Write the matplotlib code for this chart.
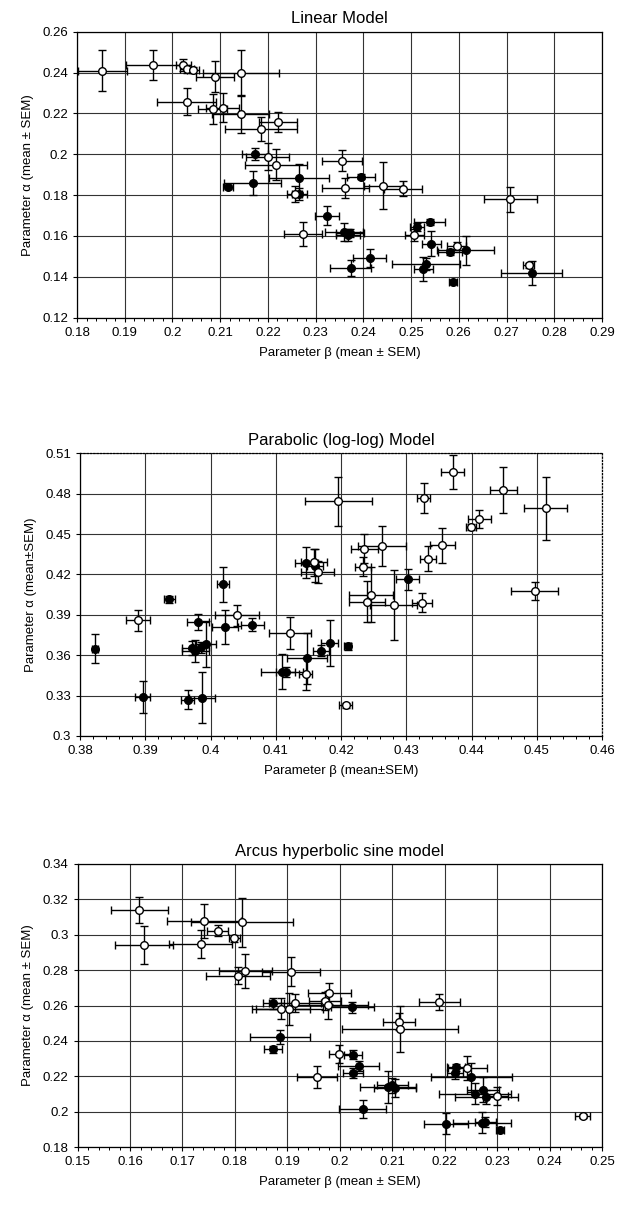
import matplotlib
matplotlib.use("Agg")
import matplotlib.pyplot as plt
from matplotlib.ticker import FixedLocator, MultipleLocator, FuncFormatter

plt.rcParams['font.family'] = ['Liberation Sans', 'DejaVu Sans']

# ---------------- Panel 1: Linear Model ----------------
lin_open_x = [0.1853, 0.1960, 0.2023, 0.2031, 0.2043, 0.2089, 0.2143, 0.2030, 0.2084, 0.2105,
              0.2143, 0.2186, 0.2221, 0.2200, 0.2217, 0.2355, 0.2362, 0.2442, 0.2483, 0.2708,
              0.2273, 0.2256, 0.2507, 0.2596, 0.2746]
lin_open_y = [0.2409, 0.2437, 0.2437, 0.2416, 0.2413, 0.2380, 0.2400, 0.2258, 0.2220, 0.2228,
              0.2196, 0.2123, 0.2160, 0.1989, 0.1948, 0.1969, 0.1834, 0.1847, 0.1831, 0.1780,
              0.1609, 0.1805, 0.1606, 0.1549, 0.1456]
lin_open_xe = [0.0051, 0.0057, 0.0015, 0.0015, 0.0012, 0.0040, 0.0080, 0.0062, 0.0030, 0.0035,
               0.0060, 0.0076, 0.0039, 0.0045, 0.0064, 0.0042, 0.0049, 0.0040, 0.0039, 0.0056,
               0.0040, 0.0015, 0.0020, 0.0020, 0.0012]
lin_open_ye = [0.0099, 0.0072, 0.0027, 0.0020, 0.0015, 0.0075, 0.0108, 0.0065, 0.0073, 0.0070,
               0.0090, 0.0060, 0.0049, 0.0064, 0.0076, 0.0051, 0.0050, 0.0114, 0.0037, 0.0061,
               0.0059, 0.0040, 0.0030, 0.0020, 0.0012]
lin_fill_x = [0.2173, 0.2116, 0.2168, 0.2266, 0.2266, 0.2324, 0.2360, 0.2368, 0.2372, 0.2374,
              0.2413, 0.2395, 0.2512, 0.2539, 0.2542, 0.2531, 0.2526, 0.2581, 0.2614, 0.2588,
              0.2753]
lin_fill_y = [0.2000, 0.1842, 0.1859, 0.1883, 0.1806, 0.1700, 0.1620, 0.1605, 0.1615, 0.1443,
              0.1492, 0.1891, 0.1646, 0.1668, 0.1562, 0.1464, 0.1438, 0.1521, 0.1529, 0.1375,
              0.1419]
lin_fill_xe = [0.0027, 0.0010, 0.0060, 0.0063, 0.0015, 0.0025, 0.0040, 0.0025, 0.0030, 0.0043,
               0.0035, 0.0029, 0.0015, 0.0033, 0.0020, 0.0072, 0.0020, 0.0025, 0.0059, 0.0008,
               0.0064]
lin_fill_ye = [0.0030, 0.0010, 0.0057, 0.0068, 0.0030, 0.0047, 0.0045, 0.0030, 0.0020, 0.0040,
               0.0045, 0.0012, 0.0020, 0.0015, 0.0060, 0.0030, 0.0057, 0.0015, 0.0073, 0.0010,
               0.0059]
lin_xticks = [0.18, 0.19, 0.20, 0.21, 0.22, 0.23, 0.24, 0.25, 0.26, 0.27, 0.28, 0.29]
lin_yticks = [0.12, 0.14, 0.16, 0.18, 0.20, 0.22, 0.24, 0.26]

# ---------------- Panel 2: Parabolic (log-log) Model ----------------
par_open_x = [0.4196, 0.3889, 0.4041, 0.4122, 0.4146, 0.4236, 0.4234, 0.4263, 0.4327, 0.4371,
              0.4449, 0.4514, 0.4412, 0.4399, 0.4355, 0.4333, 0.4246, 0.4240, 0.4281, 0.4324,
              0.4497, 0.4159, 0.4164, 0.4207]
par_open_y = [0.4743, 0.3859, 0.3896, 0.3765, 0.3463, 0.4392, 0.4256, 0.4411, 0.4770, 0.4960,
              0.4825, 0.4691, 0.4614, 0.4552, 0.4416, 0.4317, 0.4050, 0.3998, 0.3971, 0.3991,
              0.4077, 0.4292, 0.4218, 0.3228]
par_open_xe = [0.0051, 0.0019, 0.0034, 0.0032, 0.0010, 0.0020, 0.0012, 0.0037, 0.0010, 0.0017,
               0.0020, 0.0033, 0.0018, 0.0008, 0.0019, 0.0012, 0.0034, 0.0027, 0.0036, 0.0015,
               0.0036, 0.0020, 0.0025, 0.0010]
par_open_ye = [0.0182, 0.0080, 0.0077, 0.0121, 0.0118, 0.0110, 0.0070, 0.0149, 0.0110, 0.0126,
               0.0170, 0.0235, 0.0068, 0.0020, 0.0130, 0.0093, 0.0204, 0.0150, 0.0260, 0.0070,
               0.0066, 0.0100, 0.0080, 0.0020]
par_fill_x = [0.3823, 0.3937, 0.4019, 0.3981, 0.4022, 0.4064, 0.3972, 0.3977, 0.3985, 0.3993,
              0.4147, 0.4160, 0.4183, 0.4169, 0.4148, 0.4110, 0.4115, 0.4210, 0.4302, 0.3896,
              0.3965, 0.3987]
par_fill_y = [0.3649, 0.4016, 0.4129, 0.3846, 0.3809, 0.3827, 0.3655, 0.3630, 0.3660, 0.3681,
              0.4288, 0.4266, 0.3693, 0.3633, 0.3578, 0.3479, 0.3475, 0.3667, 0.4163, 0.3288,
              0.3268, 0.3285]
par_fill_xe = [0.0005, 0.0008, 0.0009, 0.0017, 0.0020, 0.0018, 0.0015, 0.0020, 0.0012, 0.0015,
               0.0018, 0.0012, 0.0013, 0.0012, 0.0030, 0.0032, 0.0015, 0.0005, 0.0018, 0.0012,
               0.0010, 0.0020]
par_fill_ye = [0.0108, 0.0025, 0.0130, 0.0060, 0.0124, 0.0046, 0.0050, 0.0080, 0.0040, 0.0170,
               0.0114, 0.0120, 0.0170, 0.0040, 0.0190, 0.0130, 0.0040, 0.0025, 0.0077, 0.0120,
               0.0070, 0.0190]
par_xticks = [0.38, 0.39, 0.40, 0.41, 0.42, 0.43, 0.44, 0.45, 0.46]
par_yticks = [0.30, 0.33, 0.36, 0.39, 0.42, 0.45, 0.48, 0.51]

# ---------------- Panel 3: Arcus hyperbolic sine model ----------------
ash_open_x = [0.1618, 0.1627, 0.1741, 0.1814, 0.1767, 0.1735, 0.1799, 0.1806, 0.1820, 0.1907,
              0.1980, 0.1972, 0.1978, 0.1915, 0.1904, 0.1888, 0.2113, 0.2115, 0.1999, 0.2190,
              0.2243, 0.1956, 0.2300, 0.2463]
ash_open_y = [0.3140, 0.2942, 0.3078, 0.3071, 0.3023, 0.2948, 0.2980, 0.2769, 0.2797, 0.2792,
              0.2669, 0.2626, 0.2603, 0.2616, 0.2579, 0.2581, 0.2509, 0.2466, 0.2327, 0.2619,
              0.2246, 0.2195, 0.2089, 0.1976]
ash_open_xe = [0.0055, 0.0055, 0.0070, 0.0097, 0.0020, 0.0060, 0.0010, 0.0061, 0.0051, 0.0055,
               0.0041, 0.0030, 0.0075, 0.0050, 0.0064, 0.0055, 0.0030, 0.0110, 0.0020, 0.0039,
               0.0037, 0.0038, 0.0020, 0.0015]
ash_open_ye = [0.0072, 0.0110, 0.0097, 0.0138, 0.0030, 0.0080, 0.0020, 0.0050, 0.0096, 0.0080,
               0.0060, 0.0050, 0.0080, 0.0050, 0.0090, 0.0060, 0.0050, 0.0130, 0.0050, 0.0044,
               0.0070, 0.0061, 0.0050, 0.0010]
ash_fill_x = [0.1873, 0.2024, 0.1886, 0.1873, 0.2025, 0.2036, 0.2025, 0.2092, 0.2100, 0.2106,
              0.2044, 0.2222, 0.2220, 0.2251, 0.2273, 0.2258, 0.2279, 0.2202, 0.2271, 0.2277,
              0.2306]
ash_fill_y = [0.2613, 0.2590, 0.2424, 0.2353, 0.2321, 0.2259, 0.2218, 0.2138, 0.2148, 0.2135,
              0.2016, 0.2251, 0.2217, 0.2193, 0.2123, 0.2101, 0.2082, 0.1931, 0.1938, 0.1942,
              0.1897]
ash_fill_xe = [0.0020, 0.0041, 0.0057, 0.0017, 0.0017, 0.0039, 0.0019, 0.0054, 0.0030, 0.0040,
               0.0045, 0.0017, 0.0015, 0.0078, 0.0030, 0.0069, 0.0060, 0.0042, 0.0056, 0.0020,
               0.0008]
ash_fill_ye = [0.0030, 0.0030, 0.0040, 0.0020, 0.0025, 0.0030, 0.0030, 0.0090, 0.0040, 0.0050,
               0.0052, 0.0020, 0.0030, 0.0080, 0.0070, 0.0060, 0.0040, 0.0060, 0.0060, 0.0030,
               0.0010]
ash_xticks = [0.15, 0.16, 0.17, 0.18, 0.19, 0.20, 0.21, 0.22, 0.23, 0.24, 0.25]
ash_yticks = [0.18, 0.20, 0.22, 0.24, 0.26, 0.28, 0.30, 0.32, 0.34]

titles = ["Linear Model", "Parabolic (log-log) Model", "Arcus hyperbolic sine model"]
xlabels = ["Parameter β (mean ± SEM)", "Parameter β (mean±SEM)", "Parameter β (mean ± SEM)"]
ylabels = ["Parameter α (mean ± SEM)", "Parameter α (mean±SEM)", "Parameter α (mean ± SEM)"]

fig = plt.figure(figsize=(6.25, 12.05), dpi=100)
positions = [
    [77 / 625, 1 - 317.7 / 1205, 525 / 625, 286 / 1205],
    [80 / 625, 1 - 736 / 1205, 522 / 625, 282.7 / 1205],
    [77.6 / 625, 1 - 1147 / 1205, 524.4 / 625, 283 / 1205],
]

panels = [
    (lin_open_x, lin_open_y, lin_open_xe, lin_open_ye,
     lin_fill_x, lin_fill_y, lin_fill_xe, lin_fill_ye, lin_xticks, lin_yticks),
    (par_open_x, par_open_y, par_open_xe, par_open_ye,
     par_fill_x, par_fill_y, par_fill_xe, par_fill_ye, par_xticks, par_yticks),
    (ash_open_x, ash_open_y, ash_open_xe, ash_open_ye,
     ash_fill_x, ash_fill_y, ash_fill_xe, ash_fill_ye, ash_xticks, ash_yticks),
]

fmt = FuncFormatter(lambda v, p: '{:g}'.format(round(v, 3)))

for i, (pos, data) in enumerate(zip(positions, panels)):
    ox, oy, oxe, oye, fx, fy, fxe, fye, xt, yt = data
    ax = fig.add_axes(pos)
    ax.set_xlim(xt[0], xt[-1])
    ax.set_ylim(yt[0], yt[-1])
    ax.xaxis.set_major_locator(FixedLocator(xt))
    ax.yaxis.set_major_locator(FixedLocator(yt))
    ax.xaxis.set_minor_locator(MultipleLocator(0.002))
    ax.xaxis.set_major_formatter(fmt)
    ax.yaxis.set_major_formatter(fmt)
    ax.grid(True, which='major', color='#333333', linewidth=0.8)
    ax.set_axisbelow(True)
    ax.tick_params(axis='both', which='major', labelsize=9.5, length=3, width=0.8, direction='out')
    ax.tick_params(axis='x', which='minor', length=2.5, width=0.7, direction='out')
    ax.errorbar(fx, fy, xerr=fxe, yerr=fye, fmt='o', ms=5.5, mfc='black', mec='black',
                ecolor='black', elinewidth=1.0, capsize=2.8, capthick=1.0, zorder=3)
    ax.errorbar(ox, oy, xerr=oxe, yerr=oye, fmt='o', ms=5.5, mfc='white', mec='black',
                mew=1.0, ecolor='black', elinewidth=1.0, capsize=2.8, capthick=1.0, zorder=4)
    ax.set_title(titles[i], fontsize=12, pad=6)
    ax.set_xlabel(xlabels[i], fontsize=9.5, labelpad=6)
    ax.set_ylabel(ylabels[i], fontsize=9.5, labelpad=6)
    for s in ax.spines.values():
        s.set_linewidth(0.9)
    if i == 1:
        ax.spines['top'].set_linestyle(':')
        ax.spines['right'].set_linestyle(':')

fig.savefig("out.png", dpi=100)
